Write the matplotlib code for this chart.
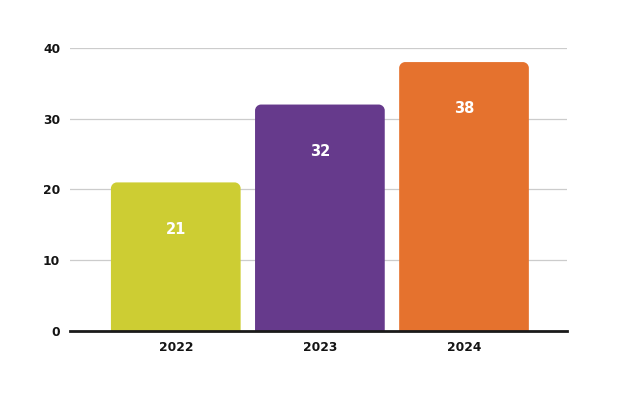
import matplotlib.pyplot as plt
from matplotlib.path import Path
from matplotlib.patches import PathPatch

years = ["2022", "2023", "2024"]
values = [21, 32, 38]
colors = ["#CDCD33", "#663A8C", "#E5722E"]
yticks = [0, 10, 20, 30, 40]

BAR_WIDTH = 0.9
RADIUS_PX = 6

plt.rcParams["font.family"] = ["DejaVu Sans"]


def rounded_top_bar(ax, x, width, height, rx, ry, color):
    x0, x1 = x - width / 2, x + width / 2
    k = 0.55
    verts = [
        (x0, 0), (x0, height - ry),
        (x0, height - ry + k * ry), (x0 + rx - k * rx, height), (x0 + rx, height),
        (x1 - rx, height),
        (x1 - rx + k * rx, height), (x1, height - ry + k * ry), (x1, height - ry),
        (x1, 0), (x0, 0),
    ]
    codes = [
        Path.MOVETO, Path.LINETO,
        Path.CURVE4, Path.CURVE4, Path.CURVE4,
        Path.LINETO,
        Path.CURVE4, Path.CURVE4, Path.CURVE4,
        Path.LINETO, Path.CLOSEPOLY,
    ]
    ax.add_patch(PathPatch(Path(verts, codes), facecolor=color, edgecolor="none", zorder=3))


fig = plt.figure(figsize=(6.35, 3.96), dpi=100)
ax = fig.add_axes([0.110, 0.164, 0.783, 0.715])
ax.set_xlim(-0.735, 2.715)
ax.set_ylim(0, 40)

# corner radius from pixels to data units
bbox = ax.get_window_extent()
rx = RADIUS_PX * 3.45 / bbox.width
ry = RADIUS_PX * 40 / bbox.height

for i, (val, col) in enumerate(zip(values, colors)):
    rounded_top_bar(ax, i, BAR_WIDTH, val, rx, ry, col)
    ax.text(i, val - 6.6, str(val), ha="center", va="center", color="white",
            fontsize=10.5, fontweight="bold", zorder=4)

ax.set_yticks(yticks)
ax.set_xticks(range(len(years)))
ax.set_xticklabels(years)
ax.grid(axis="y", color="#cccccc", linewidth=0.9, zorder=0)
ax.tick_params(length=0, labelsize=8.8, pad=7)
for lab in ax.get_xticklabels() + ax.get_yticklabels():
    lab.set_fontweight("bold")
    lab.set_color("#141414")
for side in ["top", "right", "left"]:
    ax.spines[side].set_visible(False)
ax.spines["bottom"].set_linewidth(2)
ax.spines["bottom"].set_color("#1a1a1a")
ax.spines["bottom"].set_zorder(5)

fig.savefig("out.png", dpi=100)
